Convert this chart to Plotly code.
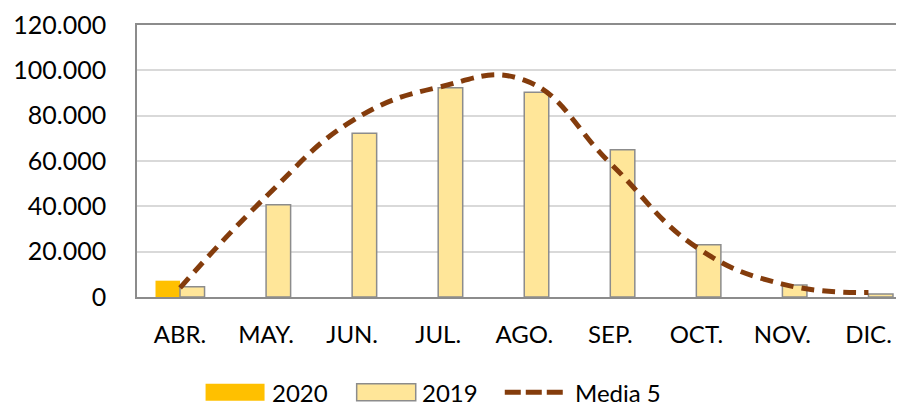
import plotly.graph_objects as go

meses = ["ABR.", "MAY.", "JUN.", "JUL.", "AGO.", "SEP.", "OCT.", "NOV.", "DIC."]
v2020 = [7200, None, None, None, None, None, None, None, None]
v2019 = [4500, 40700, 72200, 92300, 90300, 65000, 23000, 5300, 1300]
media5 = [4000, 44300, 77700, 92500, 95700, 59000, 22000, 5700, 2000]

FONT = "Lato"
C2020 = "#FFC000"
C2019 = "#FFE699"
EDGE = "#8C8C8C"
CLINE = "#843C0C"

fig = go.Figure()

fig.add_trace(go.Bar(
    x=meses, y=v2020, name="2020",
    marker=dict(color=C2020, line=dict(width=0)),
))
fig.add_trace(go.Bar(
    x=meses, y=v2019, name="2019",
    marker=dict(color=C2019, line=dict(color=EDGE, width=1.5)),
))
fig.add_trace(go.Scatter(
    x=meses, y=media5, name="Media 5", mode="lines",
    line=dict(color=CLINE, width=5, dash="13px,8px", shape="spline", smoothing=1.25),
))

# legend drawn by hand, Excel style (wide swatches), below the plot
ly = -0.35
legend_shapes = [
    dict(type="rect", xref="paper", yref="paper", x0=0.0894, x1=0.1663, y0=-0.381, y1=-0.319,
         fillcolor=C2020, line=dict(width=0)),
    dict(type="rect", xref="paper", yref="paper", x0=0.2864, x1=0.3634, y0=-0.381, y1=-0.319,
         fillcolor=C2019, line=dict(color=EDGE, width=1.5)),
    dict(type="line", xref="paper", yref="paper", x0=0.4795, x1=0.5551, y0=ly, y1=ly,
         line=dict(color=CLINE, width=5, dash="16px,5px")),
]
legend_labels = [(0.174, "2020"), (0.369, "2019"), (0.568, "Media 5")]

fig.update_layout(
    width=896, height=400,  # page body keeps an 8px margin
    margin=dict(l=129, r=0, t=17, b=111, autoexpand=False),
    paper_bgcolor="white", plot_bgcolor="white",
    font=dict(family=FONT, size=24, color="black"),
    separators=",.",
    barmode="group", bargap=0.43, bargroupgap=0,
    showlegend=False,
    shapes=legend_shapes,
    annotations=[
        dict(xref="paper", yref="paper", x=x, y=ly, text=t, showarrow=False,
             xanchor="left", yanchor="middle", font=dict(size=24))
        for x, t in legend_labels
    ],
)

fig.update_xaxes(
    range=[-0.5, 8.413], tickangle=0,
    showline=True, linecolor=EDGE, linewidth=1.5, mirror=True,
    showgrid=False, ticks="", ticklabelstandoff=15,
    tickfont=dict(size=24),
)
fig.update_yaxes(
    range=[0, 120000], dtick=20000, tickformat=",.0f",
    showline=True, linecolor=EDGE, linewidth=1.5,
    showgrid=True, gridcolor="#D9D9D9", gridwidth=1.5,
    zeroline=False, ticks="", ticklabelstandoff=24,
    tickfont=dict(size=25),
)

fig.write_html("out.html")
